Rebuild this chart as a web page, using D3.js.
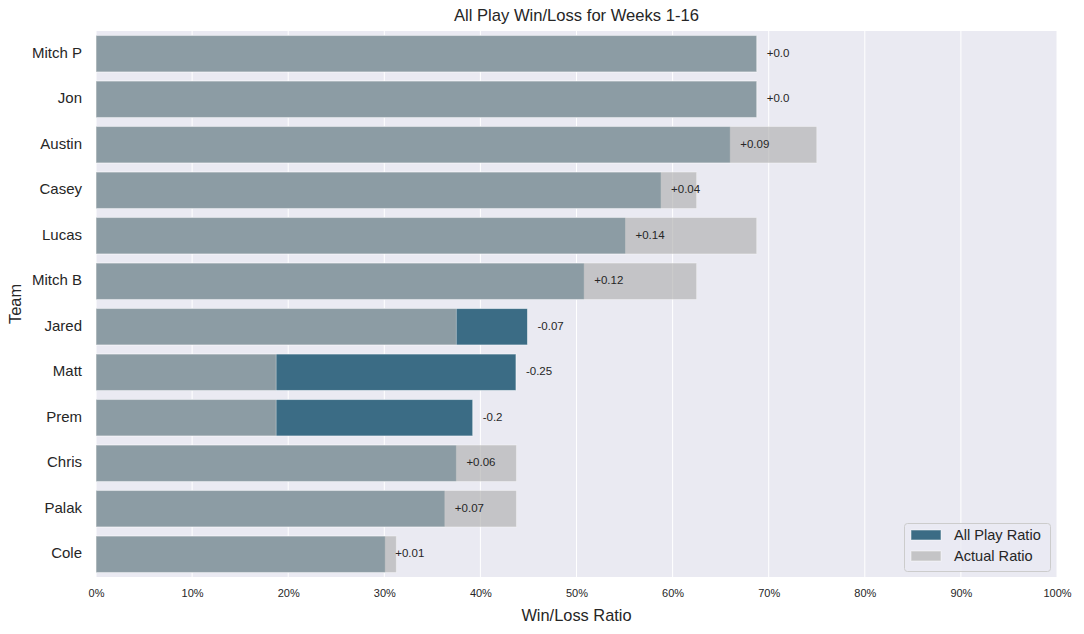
<!DOCTYPE html>
<html>
<head>
<meta charset="utf-8">
<script src="https://cdn.jsdelivr.net/npm/d3@7"></script>
<style>
  html, body { margin: 0; padding: 0; background: #ffffff; }
  svg { display: block; font-family: Arial, "Liberation Sans", sans-serif; }
</style>
</head>
<body>
<svg id="chart" width="1084" height="634"></svg>
<script>
// ---- data ----
const teams = ["Mitch P", "Jon", "Austin", "Casey", "Lucas", "Mitch B", "Jared", "Matt", "Prem", "Chris", "Palak", "Cole"];
const allPlayRatio = [0.6875, 0.6875, 0.660, 0.588, 0.551, 0.508, 0.449, 0.437, 0.392, 0.375, 0.363, 0.301];
const actualRatio  = [0.6875, 0.6875, 0.750, 0.625, 0.6875, 0.625, 0.375, 0.1875, 0.1875, 0.4375, 0.4375, 0.3125];
const diffLabels   = ["+0.0", "+0.0", "+0.09", "+0.04", "+0.14", "+0.12", "-0.07", "-0.25", "-0.2", "+0.06", "+0.07", "+0.01"];
const xTicks = [0, 0.1, 0.2, 0.3, 0.4, 0.5, 0.6, 0.7, 0.8, 0.9, 1.0];
const seriesNames = ["All Play Ratio", "Actual Ratio"];

// ---- layout ----
const svg = d3.select("#chart");
const margin = { left: 96, right: 1084 - 1057, top: 31, bottom: 634 - 577 };
const W = 1084, H = 634;
const x = d3.scaleLinear().domain([0, 1]).range([margin.left, W - margin.right]);
const y = d3.scaleBand().domain(teams).range([margin.top, H - margin.bottom]).paddingInner(0.2).paddingOuter(0.1);

const bg = "#eaeaf2";
const blue = "#3b6c85";
const grayC = "rgb(178,178,178)";
const grayOp = 0.68;
const txt = "#262626";

// background
svg.append("rect")
  .attr("x", x(0)).attr("y", margin.top)
  .attr("width", x(1) - x(0)).attr("height", H - margin.bottom - margin.top)
  .attr("fill", bg);

// grid
svg.append("g").selectAll("line").data(xTicks).join("line")
  .attr("x1", d => x(d)).attr("x2", d => x(d))
  .attr("y1", margin.top).attr("y2", H - margin.bottom)
  .attr("stroke", "#ffffff").attr("stroke-width", 1);

const rows = teams.map((t, i) => ({ team: t, ap: allPlayRatio[i], act: actualRatio[i], lab: diffLabels[i] }));

// all play bars
svg.append("g").selectAll("rect").data(rows).join("rect")
  .attr("x", x(0))
  .attr("y", d => y(d.team))
  .attr("width", d => x(d.ap) - x(0))
  .attr("height", y.bandwidth())
  .attr("fill", blue)
  .attr("stroke", "rgba(255,255,255,0.5)")
  .attr("stroke-width", 1);

// actual bars (semi-transparent gray on top)
svg.append("g").selectAll("rect").data(rows).join("rect")
  .attr("x", x(0))
  .attr("y", d => y(d.team))
  .attr("width", d => x(d.act) - x(0))
  .attr("height", y.bandwidth())
  .attr("fill", grayC)
  .attr("fill-opacity", grayOp)
  .attr("stroke", "rgba(255,255,255,0.35)")
  .attr("stroke-width", 1);

// difference labels
svg.append("g").selectAll("text").data(rows).join("text")
  .attr("x", d => x(d.ap) + 10)
  .attr("y", d => y(d.team) + y.bandwidth() / 2 - 1)
  .attr("dy", "0.35em")
  .attr("font-size", "11.5px")
  .attr("fill", txt)
  .text(d => d.lab);

// x axis
const xAxis = d3.axisBottom(x).tickValues(xTicks).tickFormat(d3.format(".0%")).tickSize(0).tickPadding(12);
const gx = svg.append("g").attr("transform", `translate(0,${H - margin.bottom})`).call(xAxis);
gx.select(".domain").remove();
gx.selectAll("text").attr("font-size", "11px").attr("fill", txt).attr("font-family", "Arial, 'Liberation Sans', sans-serif");

// y axis
const yAxis = d3.axisLeft(y).tickSize(0).tickPadding(14);
const gy = svg.append("g").attr("transform", `translate(${margin.left},0)`).call(yAxis);
gy.select(".domain").remove();
gy.selectAll("text").attr("font-size", "15px").attr("fill", txt).attr("dy", "0.28em").attr("font-family", "Arial, 'Liberation Sans', sans-serif");

// titles
svg.append("text")
  .attr("x", (x(0) + x(1)) / 2).attr("y", 21)
  .attr("text-anchor", "middle").attr("font-size", "16.6px").attr("fill", txt)
  .text("All Play Win/Loss for Weeks 1-16");

svg.append("text")
  .attr("x", (x(0) + x(1)) / 2).attr("y", 621)
  .attr("text-anchor", "middle").attr("font-size", "16.4px").attr("fill", txt)
  .text("Win/Loss Ratio");

svg.append("text")
  .attr("transform", `translate(21,${(margin.top + H - margin.bottom) / 2}) rotate(-90)`)
  .attr("text-anchor", "middle").attr("font-size", "16.4px").attr("fill", txt)
  .text("Team");

// legend
const lg = svg.append("g");
lg.append("rect")
  .attr("x", 904.5).attr("y", 523.5).attr("width", 146).attr("height", 48)
  .attr("rx", 3).attr("fill", bg).attr("fill-opacity", 0.8)
  .attr("stroke", "#cccccc").attr("stroke-width", 1);
const legColors = [blue, "rgb(196,196,198)"];
seriesNames.forEach((name, i) => {
  const yy = 535 + i * 21;
  lg.append("rect").attr("x", 911).attr("y", yy - 5).attr("width", 30).attr("height", 10)
    .attr("fill", legColors[i]).attr("stroke", "rgba(255,255,255,0.5)");
  lg.append("text").attr("x", 954).attr("y", yy).attr("dy", "0.35em")
    .attr("font-size", "14.6px").attr("fill", txt).text(name);
});
</script>
</body>
</html>
